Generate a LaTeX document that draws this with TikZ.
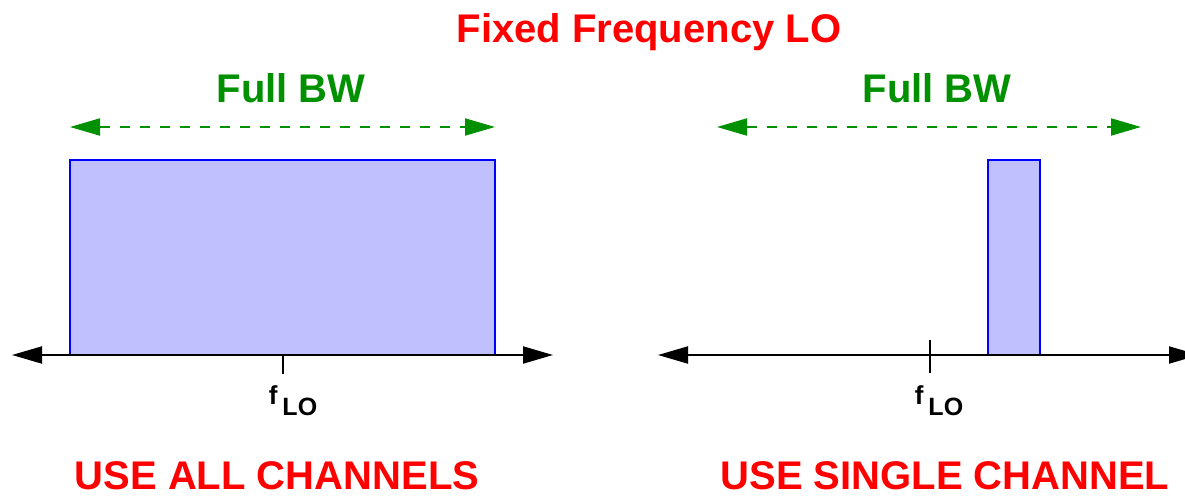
\documentclass[tikz,border=0pt]{standalone}
\usepackage{fontspec}
\setmainfont{Liberation Sans}
\usetikzlibrary{arrows.meta}
\definecolor{bwgreen}{RGB}{0,144,0}
\definecolor{bandfill}{RGB}{192,192,255}
\tikzset{
  title/.style={text=red, font=\fontsize{40}{40}\selectfont\bfseries, anchor=base, inner sep=0pt},
  bwlabel/.style={text=bwgreen, font=\fontsize{40}{40}\selectfont\bfseries, anchor=base, inner sep=0pt},
  bwarrow/.style={draw=bwgreen, line width=2pt, dash pattern=on 10pt off 10pt,
    {Triangle[length=30pt,width=17pt]}-{Triangle[length=30pt,width=17pt]}, shorten <=0pt},
  axis/.style={draw=black, line width=2pt,
    {Triangle[length=30pt,width=17pt]}-{Triangle[length=30pt,width=17pt]}},
  band/.style={draw=blue, fill=bandfill, line width=2pt},
  tick/.style={draw=black, line width=1.6pt},
  flabel/.style={anchor=base, inner sep=0pt, font=\bfseries}
}
\newcommand{\fLO}{{\fontsize{26}{26}\selectfont f}\hspace{5pt}\raisebox{-11pt}{\fontsize{25}{25}\selectfont LO}}
\begin{document}
\begin{tikzpicture}[x=1pt,y=-1pt]
  \useasboundingbox (0,0) rectangle (1185,495);

  % heading
  \node[title] (head) at (649,42) {Fixed Frequency LO};

  % ---- left panel: whole band in use ----
  \node[bwlabel] (bwL) at (291,102) {Full BW};
  \coordinate (bwLa) at (70,127);
  \coordinate (bwLb) at (495,127);
  \draw[bwarrow] (bwLa) -- (bwLb);

  \draw[band] (70,160) rectangle (495,355);
  \coordinate (axLa) at (12,355);
  \coordinate (axLb) at (553,355);
  \draw[axis] (axLa) -- (axLb);
  \coordinate (tkLa) at (283,355);
  \coordinate (tkLb) at (283,374);
  \draw[tick] (tkLa) -- (tkLb);
  \node[flabel] (fL) at (293,404) {\fLO};

  \node[title] (useAll) at (277,489) {USE ALL CHANNELS};

  % ---- right panel: one channel in use ----
  \node[bwlabel] (bwR) at (937,102) {Full BW};
  \coordinate (bwRa) at (717,127);
  \coordinate (bwRb) at (1141,127);
  \draw[bwarrow] (bwRa) -- (bwRb);

  \draw[band] (988,160) rectangle (1040,355);
  \coordinate (axRa) at (658,355);
  \coordinate (axRb) at (1199,355);
  \draw[axis] (axRa) -- (axRb);
  \coordinate (tkRa) at (930,340);
  \coordinate (tkRb) at (930,373);
  \draw[tick] (tkRa) -- (tkRb);
  \node[flabel] (fR) at (939,404) {\fLO};

  \node[title] (useOne) at (945,489) {USE SINGLE CHANNEL};
\end{tikzpicture}
\end{document}
